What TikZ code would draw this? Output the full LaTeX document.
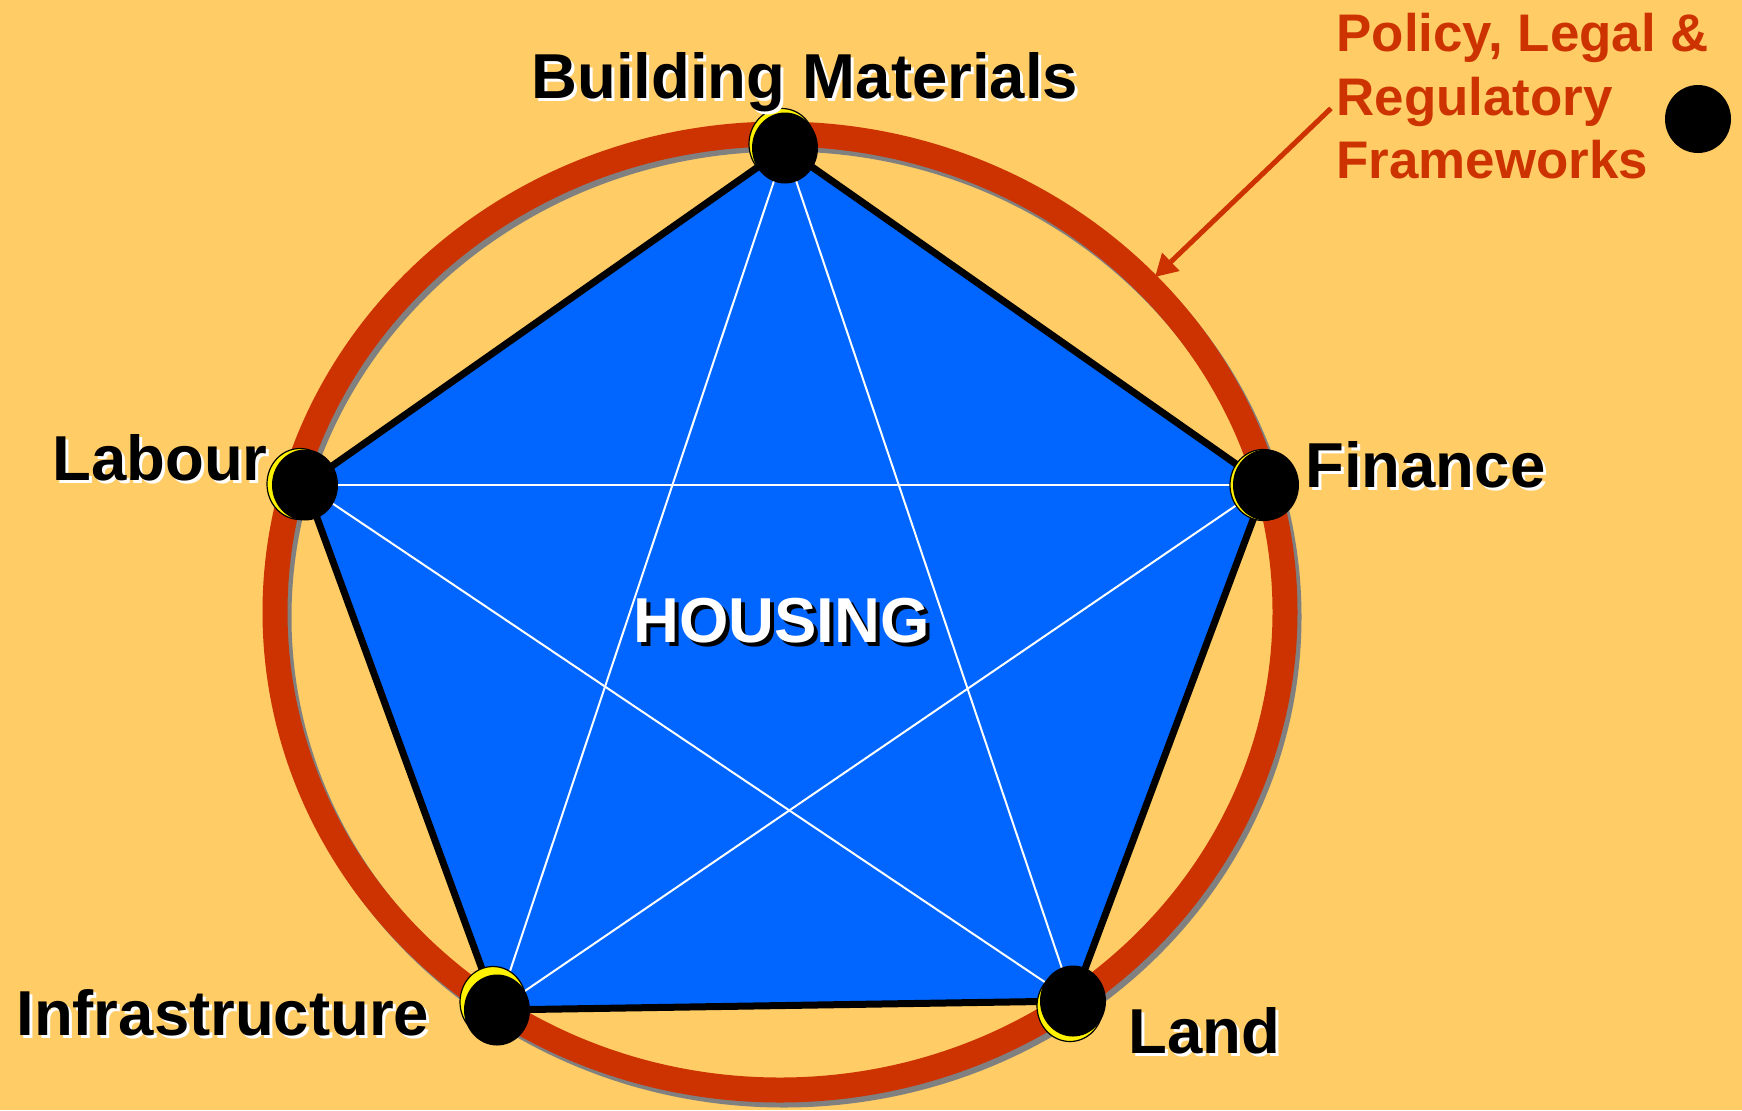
\documentclass[tikz,border=0pt]{standalone}
\usepackage{fontspec}
\setmainfont{Liberation Sans}
\usetikzlibrary{arrows.meta,shapes.geometric,positioning}
\pgfdeclarelayer{ringlayer}
\pgfdeclarelayer{edgelayer}
\pgfsetlayers{ringlayer,edgelayer,main}
\definecolor{bgcol}{HTML}{FFCC66}
\definecolor{hblue}{HTML}{0066FF}
\definecolor{hred}{HTML}{CC3300}
\newcommand{\shtext}[3][1.5pt]{\leavevmode\rlap{\hspace{#1}\raisebox{-#1}{\color{#2}#3}}#3}
\tikzset{font=\bfseries\fontsize{31.75}{38}\selectfont}
\tikzset{lbl/.style={inner sep=0pt,anchor=base west,text=black}}
\tikzstyle{dot}=[ellipse,fill=black,inner sep=0pt,minimum width=33pt,minimum height=35.5pt]
\tikzstyle{ydot}=[dot,fill=yellow,draw=black,line width=0.6pt]

\begin{document}
\begin{tikzpicture}[x=0.5pt,y=-0.5pt]
\useasboundingbox (0,0) rectangle (1742,1110);
% ring
\begin{pgfonlayer}{ringlayer}
\fill[bgcol] (0,0) rectangle (1742,1110);
\draw[gray,line width=12.5pt] (784,617) ellipse [x radius=252.5pt,y radius=239pt];
\draw[hred,line width=12.5pt] (780,612) ellipse [x radius=252.5pt,y radius=239pt];
\end{pgfonlayer}
% corners
\node[ydot] (By) at (782,144) {};
\node[dot] (B) at (785,148) {};
\node[ydot] (Ly) at (300,484) {};
\node[dot] (L) at (305,485) {};
\node[ydot] (Fy) at (1263,485) {};
\node[dot] (F) at (1266,485) {};
\node[ydot] (Iy) at (493,1002) {};
\node[dot] (I) at (497,1010) {};
\node[ydot] (Ldy) at (1070,1006) {};
\node[dot] (Ld) at (1073,1001) {};
\begin{pgfonlayer}{edgelayer}
\filldraw[fill=hblue,draw=black,line width=3.5pt,line join=round]
(B.center) -- (F.center) -- (Ld.center) -- (I.center) -- (L.center) -- cycle;
\path[draw=white,line width=1pt]
(B.center) edge (I.center)
(B.center) edge (Ld.center)
(L.center) edge (F.center)
(L.center) edge (Ld.center)
(F.center) edge (I.center);
\end{pgfonlayer}
% labels
\node[lbl] (BM) at (531,98) {\shtext{white}{Building Materials}};
\node[lbl] (LB) at (52,480) {\shtext{white}{Labour}};
\node[lbl] (FN) at (1305,487) {\shtext{white}{Finance}};
\node[lbl] (IN) at (16,1035) {\shtext{white}{Infrastructure}};
\node[lbl] (LD) at (1128,1053) {\shtext{white}{Land}};
\node[lbl,text=white] (H) at (633,642) {\shtext[2pt]{black}{HOUSING}};
% frameworks
\node[anchor=north west,inner sep=0pt,align=left,text=hred,
  font=\bfseries\fontsize{26.45}{31.75}\selectfont] (P) at (1336,13)
  {Policy, Legal \&\\Regulatory\\Frameworks};
\node[dot,minimum height=34pt] (R) at (1698,119) {};
\coordinate (tip) at (1155,277);
\draw[hred,line width=2.5pt,-{Triangle[length=11pt,width=12pt]}]
([shift={(-5,12)}]P.west) -- (tip);
\end{tikzpicture}
\end{document}
